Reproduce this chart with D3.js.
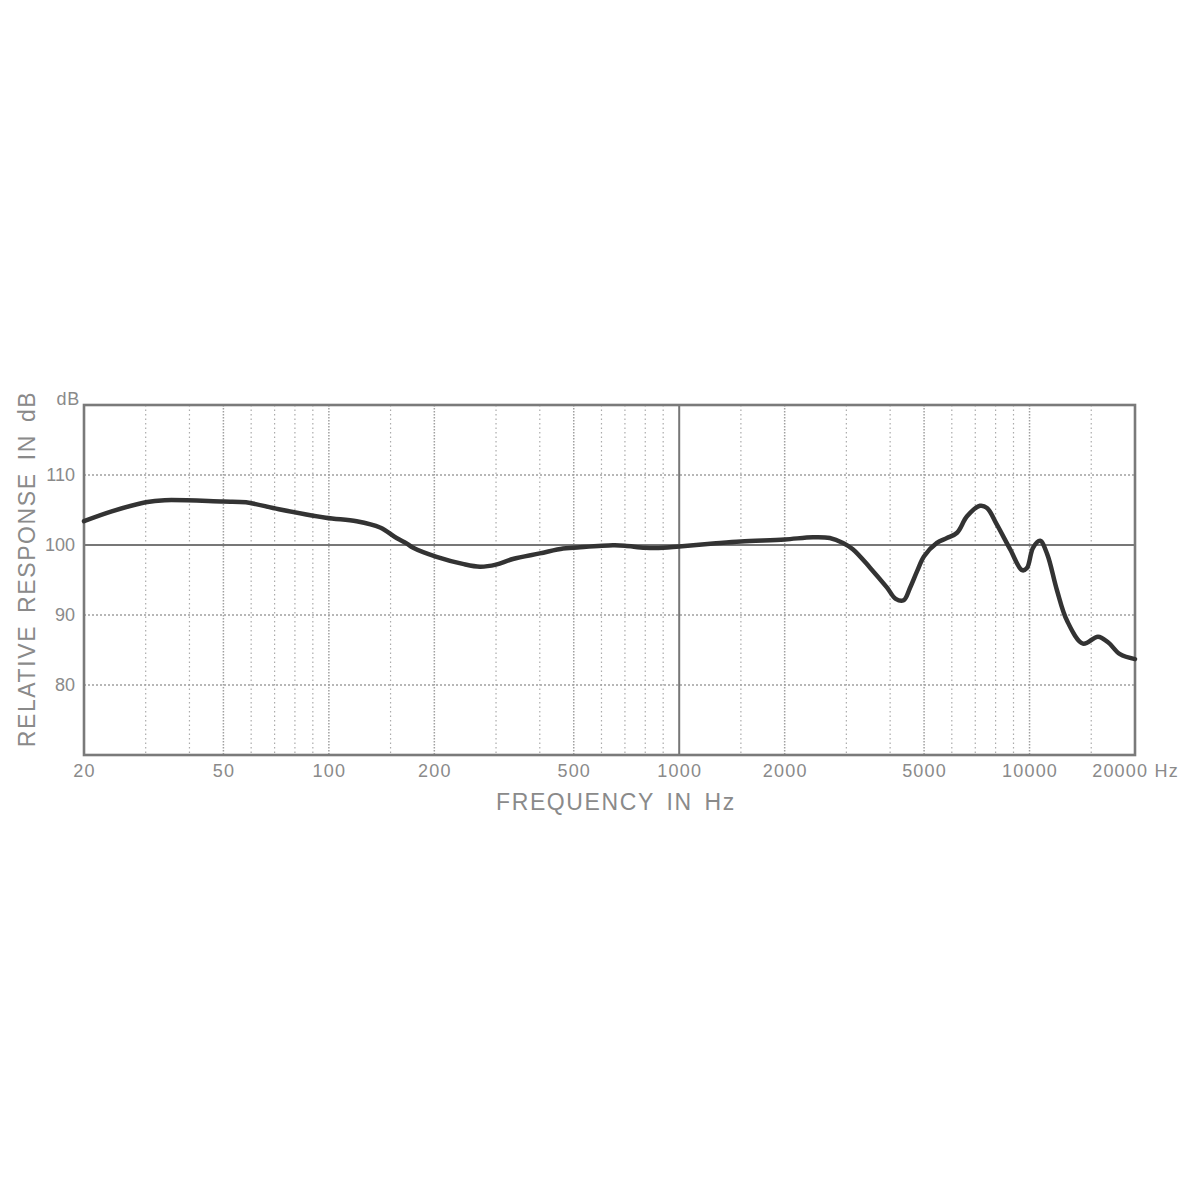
<!DOCTYPE html>
<html>
<head>
<meta charset="utf-8">
<script src="https://cdn.jsdelivr.net/npm/d3@7"></script>
<style>
  html, body { margin: 0; padding: 0; background: #fff; }
  svg { display: block; }
  text { font-family: "Liberation Sans", Arial, Helvetica, sans-serif; fill: #8a8a8a; }
</style>
</head>
<body>
<svg id="chart" width="1200" height="1200"></svg>
<script>
// ---- data ----
const freqs = [20, 24, 30, 34, 50, 58, 72, 98, 120, 140, 156, 167, 174, 203, 241, 270, 300, 335, 400, 466, 500, 647, 700, 800, 900, 1000, 1250, 1500, 2000, 2410, 2690, 2935, 3130, 3500, 3920, 4150, 4370, 4560, 4780, 5000, 5440, 5810, 6210, 6630, 7220, 7560, 8070, 8800, 9520, 9830, 10230, 10720, 11230, 11980, 12790, 14210, 15680, 16750, 18120, 20000];
const dbValues = [103.4, 104.8, 106.1, 106.4, 106.2, 106.1, 105.1, 103.9, 103.4, 102.5, 101.0, 100.2, 99.6, 98.3, 97.3, 96.9, 97.2, 98.0, 98.8, 99.5, 99.6, 99.95, 99.9, 99.6, 99.6, 99.8, 100.2, 100.5, 100.8, 101.1, 101.0, 100.3, 99.4, 96.8, 93.9, 92.3, 92.1, 93.9, 96.3, 98.4, 100.3, 101.0, 101.75, 104.1, 105.6, 105.3, 102.9, 99.4, 96.4, 96.7, 99.6, 100.6, 98.7, 93.5, 89.2, 85.9, 86.9, 86.1, 84.4, 83.7];
const xTickValues = [20, 50, 100, 200, 500, 1000, 2000, 5000, 10000, 20000];
const xTickLabels = ["20", "50", "100", "200", "500", "1000", "2000", "5000", "10000", "20000 Hz"];
const yTickValues = [80, 90, 100, 110];
const yTickLabels = ["80", "90", "100", "110"];
const gridMinorFreqs = [30, 40, 60, 70, 80, 90, 150, 300, 400, 600, 700, 800, 900, 1500, 3000, 4000, 6000, 7000, 8000, 9000, 15000];
const gridMajorFreqs = [50, 100, 200, 500, 2000, 5000, 10000];
const gridDb = [80, 90, 110];

// ---- layout ----
const pLeft = 84, pRight = 1135, pTop = 405, pBottom = 755;
const svg = d3.select("#chart");
const x = d3.scaleLog().domain([20, 20000]).range([pLeft, pRight]);
const y = d3.scaleLinear().domain([70, 120]).range([pBottom, pTop]);

// grid
const g = svg.append("g");
g.selectAll("line.minor").data(gridMinorFreqs).enter().append("line")
  .attr("x1", d => x(d)).attr("x2", d => x(d)).attr("y1", pTop).attr("y2", pBottom)
  .attr("stroke", "#ababab").attr("stroke-width", 1.2).attr("stroke-dasharray", "1.5,3");
g.selectAll("line.major").data(gridMajorFreqs).enter().append("line")
  .attr("x1", d => x(d)).attr("x2", d => x(d)).attr("y1", pTop).attr("y2", pBottom)
  .attr("stroke", "#a0a0a0").attr("stroke-width", 1.5).attr("stroke-dasharray", "1.5,1.5");
g.selectAll("line.h").data(gridDb).enter().append("line")
  .attr("x1", pLeft).attr("x2", pRight).attr("y1", d => y(d)).attr("y2", d => y(d))
  .attr("stroke", "#a0a0a0").attr("stroke-width", 1.7).attr("stroke-dasharray", "2,2");

// reference lines
g.append("line").attr("x1", pLeft).attr("x2", pRight).attr("y1", y(100)).attr("y2", y(100))
  .attr("stroke", "#777").attr("stroke-width", 2);
g.append("line").attr("x1", x(1000)).attr("x2", x(1000)).attr("y1", pTop).attr("y2", pBottom)
  .attr("stroke", "#777").attr("stroke-width", 2);

// frame
svg.append("rect").attr("x", pLeft).attr("y", pTop).attr("width", pRight - pLeft).attr("height", pBottom - pTop)
  .attr("fill", "none").attr("stroke", "#7a7a7a").attr("stroke-width", 2.6);

// curve
const line = d3.line().x(d => x(d[0])).y(d => y(d[1])).curve(d3.curveCatmullRom.alpha(0.5));
svg.append("path").datum(freqs.map((f, i) => [f, dbValues[i]]))
  .attr("d", line).attr("fill", "none").attr("stroke", "#333").attr("stroke-width", 4.5)
  .attr("stroke-linejoin", "round").attr("stroke-linecap", "round");

// x axis labels
const xAxis = d3.axisBottom(x).tickValues(xTickValues).tickSize(0)
  .tickFormat((d, i) => xTickLabels[i]);
const xg = svg.append("g").attr("transform", `translate(0,${pBottom})`).call(xAxis);
xg.select(".domain").remove();
xg.selectAll("text").attr("dy", null).attr("y", 22).attr("font-size", 18).attr("letter-spacing", 1.2)
  .style("fill", "#8a8a8a").attr("font-family", "Liberation Sans, Arial, sans-serif");

// y axis labels
const yAxis = d3.axisLeft(y).tickValues(yTickValues).tickSize(0)
  .tickFormat((d, i) => yTickLabels[i]);
const yg = svg.append("g").attr("transform", `translate(${pLeft},0)`).call(yAxis);
yg.select(".domain").remove();
yg.selectAll("text").attr("x", -9).attr("font-size", 18)
  .style("fill", "#8a8a8a").attr("font-family", "Liberation Sans, Arial, sans-serif");

// dB unit
svg.append("text").attr("x", 80).attr("y", 405).attr("text-anchor", "end")
  .attr("font-size", 18).attr("letter-spacing", 0.8).text("dB");

// axis titles
svg.append("text").attr("x", 616).attr("y", 810).attr("text-anchor", "middle")
  .attr("font-size", 23).attr("letter-spacing", 1.6).attr("word-spacing", 4)
  .text("FREQUENCY IN Hz");
svg.append("text").attr("transform", "translate(35,569) rotate(-90)").attr("text-anchor", "middle")
  .attr("font-size", 23).attr("letter-spacing", 1.6).attr("word-spacing", 4)
  .text("RELATIVE RESPONSE IN dB");
</script>
</body>
</html>
